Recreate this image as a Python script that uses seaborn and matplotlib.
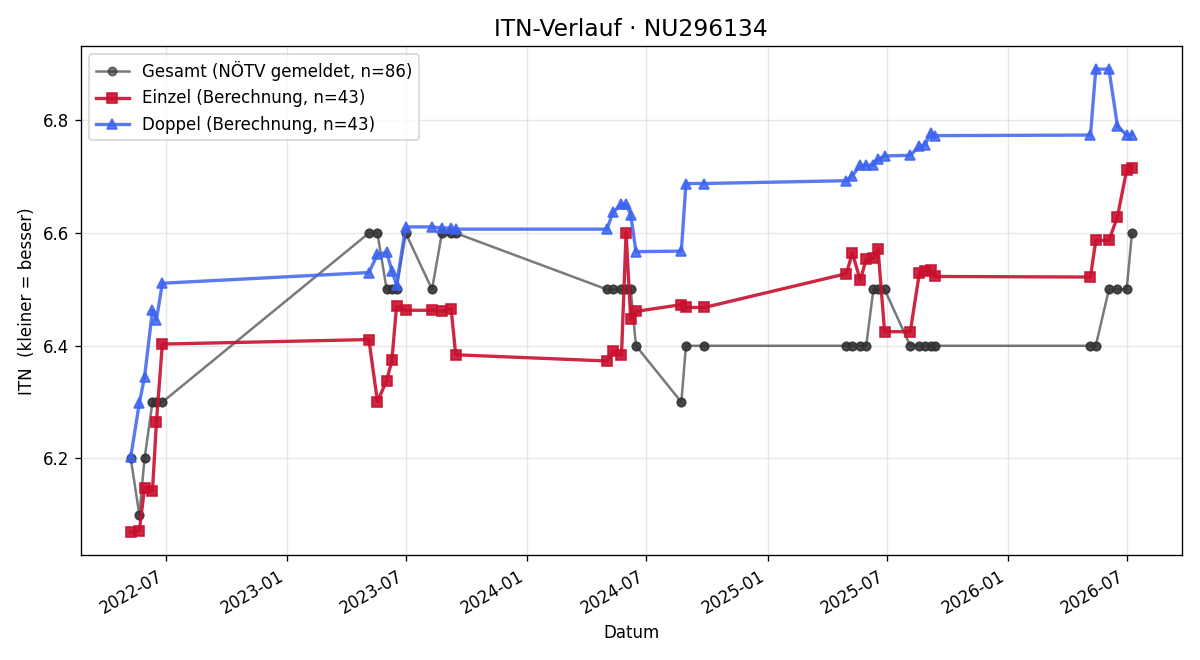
import pandas as pd
import numpy as np
import seaborn as sns
import matplotlib
matplotlib.use("Agg")
import matplotlib.pyplot as plt
import matplotlib.dates as mdates

# spieltage (43), je Spieltag ein Einzel- und ein Doppel-Ergebnis
dates = [
    "2022-05-09", "2022-05-22", "2022-05-30", "2022-06-11", "2022-06-17", "2022-06-26",
    "2023-05-06", "2023-05-19", "2023-06-02", "2023-06-10", "2023-06-17", "2023-07-01",
    "2023-08-10", "2023-08-25", "2023-09-08", "2023-09-15",
    "2024-05-02", "2024-05-11", "2024-05-24", "2024-05-31", "2024-06-07", "2024-06-15",
    "2024-08-23", "2024-08-30", "2024-09-27",
    "2025-05-01", "2025-05-10", "2025-05-22", "2025-05-31", "2025-06-11", "2025-06-18",
    "2025-06-28", "2025-08-06", "2025-08-20", "2025-08-29", "2025-09-06", "2025-09-12",
    "2026-05-07", "2026-05-15", "2026-06-04", "2026-06-17", "2026-07-01", "2026-07-09",
]

gesamt = [
    6.2, 6.1, 6.2, 6.3, 6.3, 6.3,
    6.6, 6.6, 6.5, 6.5, 6.5, 6.6, 6.5, 6.6, 6.6, 6.6,
    6.5, 6.5, 6.5, 6.5, 6.5, 6.4, 6.3, 6.4, 6.4,
    6.4, 6.4, 6.4, 6.4, 6.5, 6.5, 6.5, 6.4, 6.4, 6.4, 6.4, 6.4,
    6.4, 6.4, 6.5, 6.5, 6.5, 6.6,
]

einzel = [
    6.069, 6.072, 6.148, 6.142, 6.264, 6.403,
    6.411, 6.301, 6.338, 6.374, 6.470, 6.463, 6.463, 6.461, 6.466, 6.384,
    6.373, 6.390, 6.383, 6.601, 6.447, 6.461, 6.473, 6.468, 6.468,
    6.528, 6.565, 6.516, 6.554, 6.555, 6.572, 6.425, 6.425, 6.530, 6.532, 6.534, 6.523,
    6.522, 6.587, 6.587, 6.629, 6.712, 6.715,
]

doppel = [
    6.203, 6.298, 6.345, 6.463, 6.446, 6.511,
    6.530, 6.562, 6.566, 6.533, 6.508, 6.611, 6.611, 6.609, 6.609, 6.607,
    6.607, 6.637, 6.651, 6.651, 6.633, 6.567, 6.568, 6.688, 6.688,
    6.693, 6.702, 6.720, 6.720, 6.721, 6.731, 6.737, 6.738, 6.754, 6.757, 6.778, 6.773,
    6.774, 6.891, 6.891, 6.790, 6.774, 6.775,
]

d = pd.to_datetime(dates)
# Gesamt: NÖTV meldet pro Spieltag zweimal (Einzel + Doppel)
df_g = pd.DataFrame({"Datum": np.repeat(d, 2), "ITN": np.repeat(gesamt, 2)})
df_e = pd.DataFrame({"Datum": d, "ITN": einzel})
df_d = pd.DataFrame({"Datum": d, "ITN": doppel})

plt.rcParams["font.family"] = ["DejaVu Sans"]
fig, ax = plt.subplots(figsize=(10, 5.5), dpi=120)

c_g, c_e, c_d = "#333333", "#C8102E", "#3D63F0"
sns.lineplot(data=df_g, x="Datum", y="ITN", estimator=None, sort=False, ax=ax,
             color=c_g, alpha=0.65, marker="o", markersize=5, markeredgecolor=c_g,
             markeredgewidth=1, linewidth=1.5, label="Gesamt (NÖTV gemeldet, n=86)")
sns.lineplot(data=df_e, x="Datum", y="ITN", estimator=None, sort=False, ax=ax,
             color=c_e, alpha=0.9, marker="s", markersize=6.5, markeredgecolor=c_e,
             markeredgewidth=1, linewidth=2, label="Einzel (Berechnung, n=43)")
sns.lineplot(data=df_d, x="Datum", y="ITN", estimator=None, sort=False, ax=ax,
             color=c_d, alpha=0.85, marker="^", markersize=6.5, markeredgecolor=c_d,
             markeredgewidth=1, linewidth=2, label="Doppel (Berechnung, n=43)")

ax.set_title("ITN-Verlauf · NU296134", fontsize=14)
ax.set_xlabel("Datum")
ax.set_ylabel("ITN  (kleiner = besser)")
ax.grid(True, alpha=0.3)
ax.xaxis.set_major_locator(mdates.MonthLocator(bymonth=[1, 7]))
ax.xaxis.set_major_formatter(mdates.DateFormatter("%Y-%m"))
ax.legend(loc="upper left")
fig.autofmt_xdate()
fig.tight_layout()
fig.savefig("out.png")
